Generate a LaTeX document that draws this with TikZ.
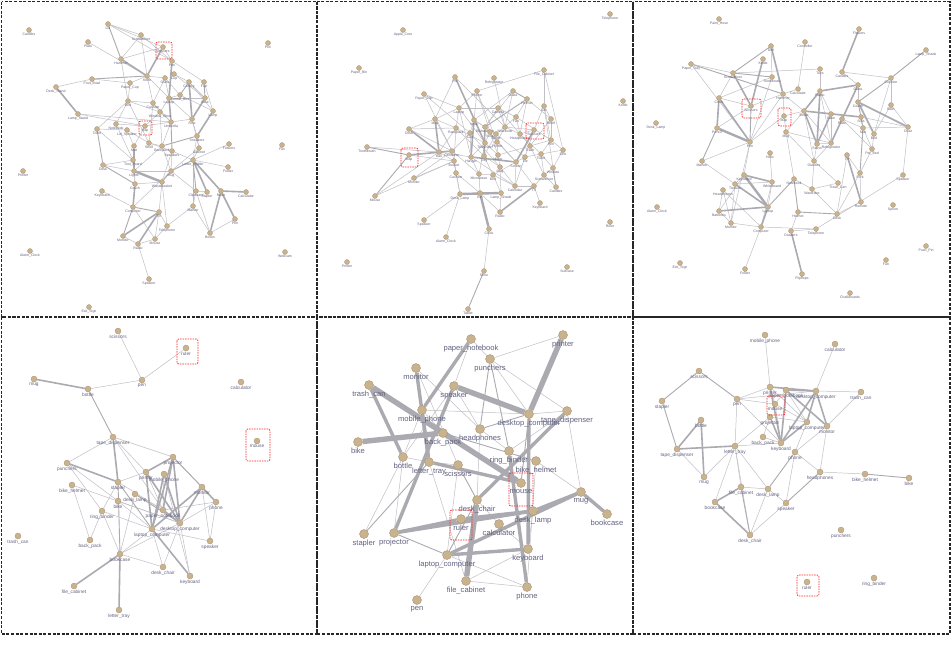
\documentclass[tikz,border=0pt]{standalone}
\usepackage{fontspec}
\setmainfont{Liberation Sans}
\pgfdeclarelayer{bg}
\pgfsetlayers{bg,main}
\definecolor{dotc}{RGB}{201,178,142}
\definecolor{dotb}{RGB}{172,148,112}
\definecolor{lblc}{RGB}{98,98,130}
\definecolor{edl}{RGB}{192,192,198}
\definecolor{edm}{RGB}{170,170,176}
\tikzset{
 pA/.style={circle,fill=dotc,draw=dotb,line width=0.3pt,inner sep=0pt,minimum size=5pt},
 pB/.style={circle,fill=dotc,draw=dotb,line width=0.3pt,inner sep=0pt,minimum size=6pt},
 pC/.style={circle,fill=dotc,draw=dotb,line width=0.4pt,inner sep=0pt,minimum size=9pt},
 lA/.style={font=\fontsize{3.5}{4}\selectfont,text=lblc,inner sep=0.6pt},
 lB/.style={font=\fontsize{4.8}{5.5}\selectfont,text=lblc,inner sep=0.8pt},
 lC/.style={font=\fontsize{7.6}{9}\selectfont,text=lblc,inner sep=1pt},
 w1/.style={draw=edl,line width=0.5pt},
 w2/.style={draw=edm,line width=0.9pt},
 w3/.style={draw=edm,line width=1.6pt},
 w4/.style={draw=edm,line width=2.4pt},
 w5/.style={draw=edm,line width=3.4pt},
 w6/.style={draw=edm,line width=5.4pt},
 panel/.style={draw=black!85,dash pattern=on 3pt off 1.6pt,line width=1.1pt},
 redbox/.style={draw=red!85,dash pattern=on 1.5pt off 1pt,line width=0.7pt,rounded corners=2pt}
}
\newcommand\dotA[3]{\node[pA,label={[lA]below:#3}] (#1) at (#2) {};}
\newcommand\dotB[3]{\node[pB,label={[lB]below:#3}] (#1) at (#2) {};}
\newcommand\dotC[3]{\node[pC,label={[lC]below:#3}] (#1) at (#2) {};}
\begin{document}
\catcode`\_=12
\begin{tikzpicture}[x=1pt,y=-1pt]
\begin{pgfonlayer}{bg}
\fill[white] (0,0) rectangle (952,646);
\end{pgfonlayer}
\path[use as bounding box] (0,0) rectangle (952,646);
% panels
\draw[panel] (1.5,1.5) rectangle (317,317);
\draw[panel] (317,1.5) rectangle (633,317);
\draw[panel] (633,1.5) rectangle (950,317);
\draw[panel] (1.5,317) rectangle (317,634);
\draw[panel] (317,317) rectangle (633,634);
\draw[panel] (633,317) rectangle (950,634);
% ---------------- panel 1
\dotA{a1}{29,30}{Candles}
\dotA{a2}{108,24}{Lid}
\dotA{a3}{141,35}{Screwdriver}
\dotA{a4}{163,47}{Scissors}
\dotA{a5}{88,42}{Plate}
\dotA{a6}{268,43}{Pen}
\dotA{a7}{121,59}{Hammer}
\dotA{a8}{172,61}{Pan}
\dotA{a9}{147,76}{Knife}
\dotA{a10}{165,78}{Glass}
\dotA{a11}{174,74}{Cup}
\dotA{a12}{189,82}{Cutlery}
\dotA{a13}{204,82}{Fan}
\dotA{a14}{92,79}{Fruit_Bowl}
\dotA{a15}{130,83}{Paper_Cup}
\dotA{a16}{56,87}{Desk_Stand}
\dotA{a17}{169,98}{Laptop}
\dotA{a18}{180,95}{Cereal_Box}
\dotA{a19}{205,98}{Vase}
\dotA{a20}{128,101}{Bed}
\dotA{a21}{153,103}{Cushion}
\dotA{a22}{160,112}{Window_Blind}
\dotA{a23}{213,111}{Lamp}
\dotA{a24}{78,114}{Lamp_Stand}
\dotA{a25}{171,122}{Umbrella}
\dotA{a26}{192,119}{Rice}
\dotA{a27}{116,124}{Notebook}
\dotA{a28}{145,126}{Map}
\dotA{a29}{97,129}{Toilet}
\dotA{a30}{127,130}{Lid_Speaker}
\dotA{a31}{149,143}{Shelf}
\dotA{a32}{197,136}{Sneakers}
\dotA{a33}{199,148}{Cabinet}
\dotA{a34}{229,144}{Flowers}
\dotA{a35}{282,145}{Fax}
\dotA{a36}{134,146}{Mat}
\dotA{a37}{162,146}{Backpack}
\dotA{a38}{172,151}{Speakers}
\dotA{a39}{133,160}{Tool_Board}
\dotA{a40}{193,160}{Letter_Holder}
\dotA{a41}{103,165}{Desk}
\dotA{a42}{228,167}{Folder}
\dotA{a43}{23,171}{Printer}
\dotA{a44}{134,171}{Lights}
\dotA{a45}{171,171}{Mug}
\dotA{a46}{162,182}{Wastebasket}
\dotA{a47}{135,184}{Couch}
\dotA{a48}{102,191}{Keyboard}
\dotA{a49}{196,191}{Clipboard}
\dotA{a50}{207,192}{Stapler}
\dotA{a51}{221,191}{Ruler}
\dotA{a52}{246,192}{Calculator}
\dotA{a53}{193,206}{Marker}
\dotA{a54}{133,207}{Computer}
\dotA{a55}{159,212}{TV}
\dotA{a56}{235,219}{Pen}
\dotA{a57}{167,226}{Telephone}
\dotA{a58}{210,233}{Books}
\dotA{a59}{123,236}{Monitor}
\dotA{a60}{155,239}{Mouse}
\dotA{a61}{138,244}{Radio}
\dotA{a62}{30,251}{Alarm_Clock}
\dotA{a63}{285,252}{Webcam}
\dotA{a64}{149,279}{Speaker}
\dotA{a65}{89,307}{Exit_Sign}
% ---------------- panel 2
\dotA{b1}{610,14}{Telephone}
\dotA{b2}{403,30}{Apple_Core}
\dotA{b3}{359,68}{Paper_Bin}
\dotA{b4}{544,70}{File_Cabinet}
\dotA{b5}{623,101}{Kettle}
\dotA{b6}{455,77}{Pot}
\dotA{b7}{494,78}{Refrigerator}
\dotA{b8}{424,94}{Paper_Clip}
\dotA{b9}{477,91}{Pitcher}
\dotA{b10}{513,91}{Glass}
\dotA{b11}{527,99}{Helmet}
\dotA{b12}{459,108}{Laptop}
\dotA{b13}{498,108}{Camera}
\dotA{b14}{544,106}{Car}
\dotA{b15}{435,119}{Mop}
\dotA{b16}{474,120}{Vase}
\dotA{b17}{516,117}{Fan}
\dotA{b18}{551,119}{Shelf}
\dotA{b19}{409,129}{Desk}
\dotA{b20}{456,128}{Backpack}
\dotA{b21}{470,133}{Cap}
\dotA{b22}{485,127}{Dishwasher}
\dotA{b23}{490,132}{Sofa}
\dotA{b24}{505,127}{Notebook}
\dotA{b25}{496,134}{Bottle}
\dotA{b26}{520,134}{Headphones}
\dotA{b27}{534,130}{Scissors}
\dotA{b28}{551,140}{Pen}
\dotA{b29}{563,150}{Sink}
\dotA{b30}{485,143}{Television}
\dotA{b31}{497,142}{Printer}
\dotA{b32}{367,147}{Toothbrush}
\dotA{b33}{409,155}{Map}
\dotA{b34}{439,152}{Ball}
\dotA{b35}{452,151}{Container}
\dotA{b36}{471,157}{Hanger}
\dotA{b37}{484,156}{Tray}
\dotA{b38}{498,155}{Mirror}
\dotA{b39}{516,162}{Screen}
\dotA{b40}{525,157}{Tile}
\dotA{b41}{530,146}{Trash}
\dotA{b42}{541,154}{Toilet}
\dotA{b43}{454,161}{Bucket}
\dotA{b44}{500,167}{Mug}
\dotA{b45}{553,168}{Window}
\dotA{b46}{456,173}{Cushion}
\dotA{b47}{479,174}{Microwave}
\dotA{b48}{493,175}{Bed}
\dotA{b49}{544,175}{Screwdriver}
\dotA{b50}{515,186}{Calendar}
\dotA{b51}{534,186}{TV}
\dotA{b52}{556,187}{Candles}
\dotA{b53}{414,178}{Monitor}
\dotA{b54}{460,194}{Desk_Lamp}
\dotA{b55}{480,193}{Bin}
\dotA{b56}{501,193}{Lamp_Shade}
\dotA{b57}{540,203}{Keyboard}
\dotA{b58}{500,212}{Radio}
\dotA{b59}{375,196}{Mouse}
\dotA{b60}{424,220}{Speaker}
\dotA{b61}{489,229}{Clock}
\dotA{b62}{446,237}{Alarm_Clock}
\dotA{b63}{610,222}{Ruler}
\dotA{b64}{347,262}{Printer}
\dotA{b65}{567,267}{Suitcase}
\dotA{b66}{484,271}{Shoe}
\dotA{b67}{468,309}{Tablet}
% ---------------- panel 3
\dotA{c1}{719,19}{Paint_Hose}
\dotA{c2}{859,29}{Flowers}
\dotA{c3}{926,50}{Lamp_Shade}
\dotA{c4}{771,46}{Drill}
\dotA{c5}{805,42}{Controller}
\dotA{c6}{763,59}{Kettle}
\dotA{c7}{691,64}{Paper_Tray}
\dotA{c8}{733,73}{Screwdriver}
\dotA{c9}{772,77}{Toothbrush}
\dotA{c10}{820,69}{Toys}
\dotA{c11}{842,72}{Candles}
\dotA{c12}{891,78}{Cushion}
\dotA{c13}{798,89}{Calculator}
\dotA{c14}{783,94}{Hammer}
\dotA{c15}{820,91}{Radio}
\dotA{c16}{858,85}{Glass}
\dotA{c17}{719,98}{Clock}
\dotA{c18}{751,106}{Scissors}
\dotA{c19}{784,116}{Map}
\dotA{c20}{804,111}{Bottle}
\dotA{c21}{858,102}{Couch}
\dotA{c22}{891,105}{Bath}
\dotA{c23}{831,114}{Cake}
\dotA{c24}{842,119}{Plate}
\dotA{c25}{861,117}{Sofa}
\dotA{c26}{863,128}{Mat}
\dotA{c27}{874,134}{Bed}
\dotA{c28}{908,127}{Chair}
\dotA{c29}{717,128}{Pencil}
\dotA{c30}{786,132}{Mug}
\dotA{c31}{817,144}{Stand}
\dotA{c32}{831,143}{Refrigerator}
\dotA{c33}{872,149}{Pet_Bed}
\dotA{c34}{750,142}{Pen}
\dotA{c35}{770,153}{Helix}
\dotA{c36}{814,161}{Glasses}
\dotA{c37}{847,155}{TV}
\dotA{c38}{702,161}{Marker}
\dotA{c39}{860,173}{Fork}
\dotA{c40}{903,175}{Speaker}
\dotA{c41}{744,175}{Keyboard}
\dotA{c42}{735,184}{Tissues}
\dotA{c43}{772,182}{Whiteboard}
\dotA{c44}{794,179}{Notebook}
\dotA{c45}{812,189}{Wardrobe}
\dotA{c46}{838,183}{Trash_Can}
\dotA{c47}{723,190}{Headphones}
\dotA{c48}{768,207}{Laptop}
\dotA{c49}{719,211}{Batteries}
\dotA{c50}{731,223}{Monitor}
\dotA{c51}{761,227}{Computer}
\dotA{c52}{798,212}{Helmet}
\dotA{c53}{837,214}{Desk}
\dotA{c54}{861,202}{Remote}
\dotA{c55}{893,205}{Spoon}
\dotA{c56}{791,231}{Drawers}
\dotA{c57}{816,229}{Telephone}
\dotA{c58}{926,246}{Push_Pin}
\dotA{c59}{886,260}{Fan}
\dotA{c60}{680,263}{Exit_Sign}
\dotA{c61}{745,269}{Folder}
\dotA{c62}{802,274}{Flipflops}
\dotA{c63}{850,293}{Chalkboards}
\dotA{c64}{656,123}{Desk_Lamp}
\dotA{c65}{657,207}{Alarm_Clock}
% ---------------- panel 4
\dotB{d1}{118,331}{scissors}
\dotB{d2}{186,348}{ruler}
\dotB{d3}{34,379}{mug}
\dotB{d4}{88,389}{bottle}
\dotB{d5}{142,380}{pen}
\dotB{d6}{241,382}{calculator}
\dotB{d7}{257,441}{mouse}
\dotB{d8}{113,437}{tape_dispenser}
\dotB{d9}{173,457}{projector}
\dotB{d10}{67,463}{punchers}
\dotB{d11}{146,472}{printer}
\dotB{d12}{164,474}{mobile_phone}
\dotB{d13}{72,485}{bike_helmet}
\dotB{d14}{118,482}{stapler}
\dotB{d15}{135,494}{desk_lamp}
\dotB{d16}{202,487}{monitor}
\dotB{d17}{216,502}{phone}
\dotB{d18}{118,501}{bike}
\dotB{d19}{102,511}{ring_binder}
\dotB{d20}{163,510}{paper_notebook}
\dotB{d21}{180,523}{desktop_computer}
\dotB{d22}{152,529}{laptop_computer}
\dotB{d23}{90,540}{back_pack}
\dotB{d24}{210,541}{speaker}
\dotB{d25}{18,536}{trash_can}
\dotB{d26}{120,554}{bookcase}
\dotB{d27}{163,567}{desk_chair}
\dotB{d28}{190,576}{keyboard}
\dotB{d29}{74,586}{file_cabinet}
\dotB{d30}{119,610}{letter_tray}
% ---------------- panel 5
\dotC{e1}{471,339}{paper_notebook}
\dotC{e2}{563,335}{printer}
\dotC{e3}{490,359}{punchers}
\dotC{e4}{416,368}{monitor}
\dotC{e5}{369,385}{trash_can}
\dotC{e6}{454,386}{speaker}
\dotC{e7}{422,410}{mobile_phone}
\dotC{e8}{529,414}{desktop_computer}
\dotC{e9}{567,411}{tape_dispenser}
\dotC{e10}{480,429}{headphones}
\dotC{e11}{443,433}{back_pack}
\dotC{e12}{358,442}{bike}
\dotC{e13}{509,451}{ring_binder}
\dotC{e14}{536,461}{bike_helmet}
\dotC{e15}{403,457}{bottle}
\dotC{e16}{429,462}{letter_tray}
\dotC{e17}{458,465}{scissors}
\dotC{e18}{521,483}{mouse}
\dotC{e19}{581,492}{mug}
\dotC{e20}{477,500}{desk_chair}
\dotC{e21}{533,511}{desk_lamp}
\dotC{e22}{607,514}{bookcase}
\dotC{e23}{461,519}{ruler}
\dotC{e24}{499,524}{calculator}
\dotC{e25}{364,534}{stapler}
\dotC{e26}{394,533}{projector}
\dotC{e27}{447,555}{laptop_computer}
\dotC{e28}{528,549}{keyboard}
\dotC{e29}{466,581}{file_cabinet}
\dotC{e30}{527,587}{phone}
\dotC{e31}{417,600}{pen}
% ---------------- panel 6
\dotB{f1}{765,335}{mobile_phone}
\dotB{f2}{835,344}{calculator}
\dotB{f3}{699,371}{scissors}
\dotB{f4}{662,401}{stapler}
\dotB{f5}{737,399}{pen}
\dotB{f6}{770,387}{printer}
\dotB{f7}{786,390}{paper_notebook}
\dotB{f8}{816,391}{desktop_computer}
\dotB{f9}{861,392}{trash_can}
\dotB{f10}{775,404}{mouse}
\dotB{f11}{770,417}{projector}
\dotB{f12}{701,420}{bottle}
\dotB{f13}{807,422}{laptop_computer}
\dotB{f14}{827,426}{monitor}
\dotB{f15}{763,437}{back_pack}
\dotB{f16}{781,443}{keyboard}
\dotB{f17}{677,449}{tape_dispenser}
\dotB{f18}{735,446}{letter_tray}
\dotB{f19}{795,452}{phone}
\dotB{f20}{704,477}{mug}
\dotB{f21}{820,472}{headphones}
\dotB{f22}{865,474}{bike_helmet}
\dotB{f23}{909,478}{bike}
\dotB{f24}{741,487}{file_cabinet}
\dotB{f25}{768,489}{desk_lamp}
\dotB{f26}{715,502}{bookcase}
\dotB{f27}{786,503}{speaker}
\dotB{f28}{750,535}{desk_chair}
\dotB{f29}{841,530}{punchers}
\dotB{f30}{807,582}{ruler}
\dotB{f31}{874,578}{ring_binder}
% ---------------- red boxes
\draw[redbox] (156,42) rectangle (172,59);
\draw[redbox] (139,121) rectangle (152,135);
\draw[redbox] (526,123) rectangle (544,139);
\draw[redbox] (401,148) rectangle (418,167);
\draw[redbox] (742,99) rectangle (761,118);
\draw[redbox] (778,108) rectangle (791,126);
\draw[redbox] (177,339) rectangle (198,364);
\draw[redbox] (246,429) rectangle (270,461);
\draw[redbox] (509,473) rectangle (533,506);
\draw[redbox] (450,510) rectangle (472,540);
\draw[redbox] (767,396) rectangle (785,415);
\draw[redbox] (797,575) rectangle (819,596);
% ---------------- edges
\begin{pgfonlayer}{bg}
% panel 1
\foreach \u/\v in {a2/a3,a2/a8,a5/a9,a3/a9,a3/a8,a3/a7,a7/a4,a7/a20,a9/a10,a9/a21,a14/a16,a20/a27,a20/a29,a20/a21,a20/a31,a12/a19,a18/a17,a10/a18,a19/a17,a25/a21,a25/a37,a25/a26,a25/a28,a24/a28,a32/a33,a48/a54,a54/a60,a53/a58,a53/a49,a58/a56,a45/a38,a46/a55,a40/a42,a8/a13,a11/a12,a10/a17,a22/a25,a27/a28,a30/a31,a17/a26,a18/a23,a21/a31,a31/a37,a38/a46,a44/a45,a39/a44,a30/a36,a33/a45,a40/a53,a49/a50,a55/a57,a57/a60,a59/a61,a28/a36,a22/a37,a26/a32,a12/a23,a14/a15,a15/a20,a9/a15,a17/a22,a21/a22,a37/a44,a38/a40,a27/a39,a41/a39,a47/a46,a46/a57,a61/a64,a29/a30,a41/a44,a45/a49,a33/a40,a36/a47,a60/a61,a4/a8,a2/a4,a24/a25,a29/a39,a31/a38,a32/a40,a34/a40,a26/a33,a10/a21,a11/a19,a22/a28,a37/a45,a53/a57,a55/a60,a49/a58,a44/a47,a20/a22,a9/a17,a13/a23,a45/a54}
  \draw[w1] (\u) -- (\v);
\foreach \u/\v in {a2/a7,a14/a9,a13/a19,a25/a38,a32/a37,a29/a41,a41/a47,a40/a49,a54/a59,a12/a18,a45/a46,a54/a55,a40/a45}
  \draw[w2] (\u) -- (\v);
\foreach \u/\v in {a4/a9,a8/a17,a12/a26,a19/a26,a25/a17,a23/a32,a36/a44,a16/a24,a47/a54,a55/a61,a55/a59,a40/a50,a40/a51,a51/a52,a51/a56,a51/a58,a7/a9}
  \draw[w3] (\u) -- (\v);
\draw[w4] (a44) -- (a46);
% panel 2
\foreach \u/\v in {b4/b9,b4/b14,b4/b29,b7/b24,b8/b21,b9/b23,b9/b12,b10/b16,b10/b24,b12/b15,b12/b13,b15/b35,b19/b35,b59/b43,b27/b26,b27/b14,b14/b18,b14/b45,b29/b28,b29/b42,b61/b66,b60/b54,b62/b54,b53/b43,b53/b35,b57/b51,b50/b39,b50/b48,b50/b51,b12/b20,b6/b15,b13/b22,b13/b17,b16/b21,b16/b22,b17/b26,b17/b25,b18/b28,b20/b34,b20/b30,b21/b36,b22/b31,b23/b38,b24/b26,b25/b37,b26/b41,b28/b41,b30/b36,b31/b38,b34/b43,b35/b46,b36/b47,b37/b44,b38/b44,b39/b40,b40/b42,b41/b49,b42/b45,b43/b46,b44/b50,b45/b49,b46/b54,b47/b55,b48/b56,b49/b51,b49/b52,b39/b48,b15/b19,b11/b17,b11/b26,b8/b12,b9/b16,b12/b30,b20/b43,b30/b38,b37/b48,b47/b48,b21/b35,b28/b42,b13/b24,b15/b20,b23/b30,b34/b36,b31/b39,b55/b58,b56/b58,b18/b41,b24/b27,b17/b28,b59/b34,b14/b28,b8/b35,b6/b24,b9/b31,b10/b22,b12/b36,b19/b20,b20/b37,b21/b44,b22/b39,b25/b40,b26/b42,b27/b40,b29/b45,b30/b47,b32/b34,b33/b43,b35/b47,b36/b50,b38/b41,b39/b51,b40/b50,b42/b49,b43/b54,b44/b56,b46/b55,b16/b25,b13/b26,b24/b31,b11/b18}
  \draw[w1] (\u) -- (\v);
\foreach \u/\v in {b11/b22,b32/b33,b66/b67,b10/b11,b52/b45,b33/b59}
  \draw[w2] (\u) -- (\v);
\foreach \u/\v in {b6/b30,b15/b34,b19/b34,b33/b35,b27/b39,b22/b37,b36/b39,b51/b58,b16/b36}
  \draw[w3] (\u) -- (\v);
\foreach \u/\v in {b55/b61,b54/b56}
  \draw[w4] (\u) -- (\v);
% panel 3
\foreach \u/\v in {c5/c13,c7/c8,c7/c34,c8/c17,c8/c10,c9/c17,c9/c34,c11/c12,c14/c18,c14/c20,c19/c34,c20/c30,c20/c36,c15/c23,c15/c32,c16/c21,c16/c24,c12/c22,c12/c27,c22/c27,c22/c28,c28/c40,c32/c23,c32/c24,c32/c30,c34/c41,c34/c50,c41/c42,c36/c31,c44/c45,c53/c45,c51/c57,c57/c40,c51/c61,c39/c54,c50/c47,c51/c50,c38/c34,c17/c18,c18/c29,c14/c19,c19/c30,c23/c25,c24/c26,c25/c28,c26/c33,c27/c33,c31/c32,c32/c36,c36/c45,c37/c39,c43/c48,c42/c43,c47/c49,c49/c50,c42/c50,c43/c51,c47/c51,c41/c49,c38/c42,c35/c43,c30/c36,c33/c39,c46/c36,c53/c54,c52/c56,c56/c57,c53/c39,c45/c46,c37/c53,c10/c15,c13/c14,c24/c33,c26/c28,c11/c16,c20/c32,c25/c26,c30/c44,c4/c9,c14/c34,c19/c20}
  \draw[w1] (\u) -- (\v);
\foreach \u/\v in {c4/c8,c7/c14,c3/c12,c21/c26,c29/c38,c44/c48,c52/c53,c18/c34,c26/c39,c8/c9,c12/c21,c44/c52}
  \draw[w2] (\u) -- (\v);
\foreach \u/\v in {c4/c14,c6/c18,c8/c18,c17/c29,c17/c34,c20/c31,c20/c25,c15/c16,c16/c32,c21/c28,c21/c27,c41/c43,c42/c48,c49/c48,c51/c48,c56/c62,c37/c54,c2/c11,c15/c20,c15/c31,c23/c31}
  \draw[w3] (\u) -- (\v);
\foreach \u/\v in {c29/c34,c41/c48}
  \draw[w4] (\u) -- (\v);
% panel 4
\foreach \u/\v in {d1/d5,d2/d5,d4/d5,d8/d9,d8/d10,d8/d11,d8/d20,d10/d18,d13/d23,d13/d21,d11/d14,d12/d20,d16/d24,d14/d19,d14/d20,d15/d26,d15/d20,d19/d26,d19/d22,d19/d23,d26/d27,d26/d22,d22/d27,d22/d24,d21/d28,d17/d20,d17/d21,d9/d17,d18/d22,d26/d21,d27/d21,d12/d28,d11/d20,d17/d24,d10/d19,d18/d21}
  \draw[w1] (\u) -- (\v);
\foreach \u/\v in {d4/d8,d14/d22,d9/d16,d15/d21,d14/d26}
  \draw[w2] (\u) -- (\v);
\foreach \u/\v in {d3/d4,d8/d14,d10/d14,d9/d11,d9/d20,d9/d22,d9/d21,d11/d22,d12/d21,d16/d17,d16/d22,d16/d21,d26/d29,d26/d30,d22/d28,d20/d21,d11/d21,d12/d22}
  \draw[w3] (\u) -- (\v);
% panel 5
\foreach \u/\v in {e1/e3,e2/e3,e3/e8,e4/e10,e4/e17,e6/e15,e7/e11,e7/e8,e8/e9,e9/e19,e10/e20,e15/e25,e15/e16,e16/e17,e19/e14,e14/e30,e27/e31,e27/e30,e29/e30,e24/e28,e1/e6,e10/e13,e22/e19,e24/e20,e26/e15,e16/e29,e13/e9,e7/e15,e17/e27,e21/e28,e3/e9,e6/e10,e29/e28}
  \draw[w1] (\u) -- (\v);
\foreach \u/\v in {e3/e10,e3/e13,e11/e14,e17/e20,e20/e27,e10/e8,e25/e16,e26/e27,e8/e18}
  \draw[w2] (\u) -- (\v);
\foreach \u/\v in {e1/e7,e4/e16,e5/e15,e6/e26,e7/e16,e16/e18,e9/e20,e8/e28,e13/e30,e19/e21,e19/e22,e21/e23,e26/e23,e26/e21,e27/e28,e27/e19}
  \draw[w5] (\u) -- (\v);
\foreach \u/\v in {e2/e8,e6/e8,e12/e11,e5/e18,e20/e29}
  \draw[w6] (\u) -- (\v);
% panel 6
\foreach \u/\v in {f1/f6,f2/f8,f5/f6,f5/f8,f5/f18,f5/f16,f9/f8,f9/f14,f10/f13,f10/f16,f11/f18,f17/f20,f13/f19,f14/f19,f14/f21,f15/f16,f18/f20,f18/f24,f18/f26,f18/f25,f18/f28,f18/f16,f19/f27,f19/f21,f21/f22,f25/f27,f27/f28,f24/f25,f25/f28,f6/f10,f7/f10,f11/f13,f15/f11,f5/f10,f6/f13,f7/f13}
  \draw[w1] (\u) -- (\v);
\foreach \u/\v in {f3/f4,f3/f5,f4/f17,f19/f25,f21/f27,f22/f23,f24/f28}
  \draw[w2] (\u) -- (\v);
\foreach \u/\v in {f6/f16,f6/f8,f7/f8,f7/f14,f7/f16,f8/f14,f8/f16,f11/f16,f12/f17,f12/f20,f17/f18,f13/f16,f24/f26,f26/f28,f8/f13}
  \draw[w3] (\u) -- (\v);
\end{pgfonlayer}
\end{tikzpicture}
\end{document}
